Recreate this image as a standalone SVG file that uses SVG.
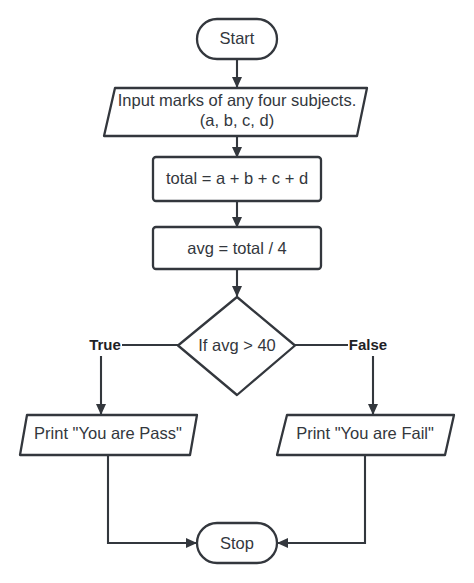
<svg xmlns="http://www.w3.org/2000/svg" width="474" height="583" viewBox="0 0 474 583">
<style>
.s{fill:#fff;stroke:#33373d;stroke-width:2.3;stroke-linejoin:round}
.c{fill:none;stroke:#33373d;stroke-width:2.1}
.t{font-family:"Liberation Sans",Arial,sans-serif;font-size:16.5px;fill:#33373d;text-anchor:middle}
.b{font-family:"Liberation Sans",Arial,sans-serif;font-size:15px;font-weight:bold;fill:#1e2125;text-anchor:middle}
</style>
<defs>
<marker id="ah" markerWidth="11" markerHeight="11" refX="10" refY="5.5" orient="auto" markerUnits="userSpaceOnUse">
<path d="M0,0.5 L11,5.5 L0,10.5 Z" fill="#33373d"/>
</marker>
</defs>
<rect width="474" height="583" fill="#fff"/>
<g id="connectors">
<path class="c" d="M237,59 V87" marker-end="url(#ah)"/>
<path class="c" d="M237,136 V157" marker-end="url(#ah)"/>
<path class="c" d="M237,201 V227" marker-end="url(#ah)"/>
<path class="c" d="M237,269 V296" marker-end="url(#ah)"/>
<path class="c" d="M178,345 H122"/>
<path class="c" d="M101,356 V414" marker-end="url(#ah)"/>
<path class="c" d="M295,345 H348"/>
<path class="c" d="M373,356 V414" marker-end="url(#ah)"/>
<path class="c" d="M108,454 V543 H196" marker-end="url(#ah)"/>
<path class="c" d="M365,454 V543 H278" marker-end="url(#ah)"/>
<text class="b" x="105" y="350">True</text>
<text class="b" x="368" y="350">False</text>
</g>
<g id="start">
<rect class="s" x="197" y="19" width="80" height="40" rx="20"/>
<text class="t" x="237" y="44">Start</text>
</g>
<g id="input">
<path class="s" d="M115,88 H367 L357,136 H104 Z"/>
<text class="t" x="237" y="106">Input marks of any four subjects.</text>
<text class="t" x="237" y="126">(a, b, c, d)</text>
</g>
<g id="total">
<rect class="s" x="153" y="157" width="168" height="44" rx="3"/>
<text class="t" x="237" y="184">total = a + b + c + d</text>
</g>
<g id="avg">
<rect class="s" x="153" y="227" width="168" height="42" rx="3"/>
<text class="t" x="237" y="254">avg = total / 4</text>
</g>
<g id="decision">
<path class="s" d="M237,297 L295,345.5 L237,395 L178,345.5 Z"/>
<text class="t" x="237" y="351">If avg &gt; 40</text>
</g>
<g id="pass">
<path class="s" d="M27,415 H197 L190,455 H20 Z"/>
<text class="t" x="108" y="439">Print "You are Pass"</text>
</g>
<g id="fail">
<path class="s" d="M287,415 H454 L445,455 H277 Z"/>
<text class="t" x="365" y="439">Print "You are Fail"</text>
</g>
<g id="stop">
<rect class="s" x="197" y="523" width="80" height="40" rx="20"/>
<text class="t" x="237" y="549">Stop</text>
</g>
</svg>
